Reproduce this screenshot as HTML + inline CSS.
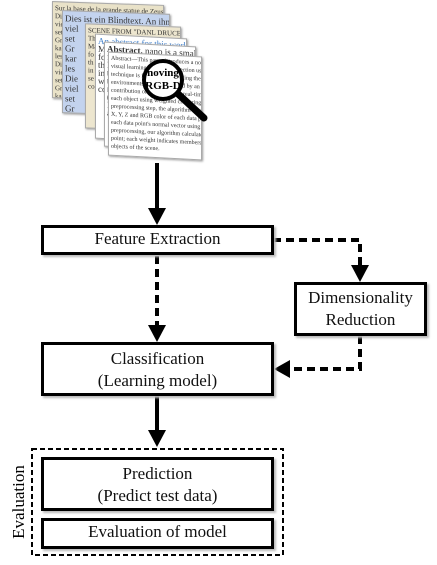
<!DOCTYPE html>
<html><head><style>
body{margin:0;width:437px;height:565px;background:#fff;position:relative;overflow:hidden;font-family:"Liberation Serif",serif;}
.b{position:absolute;border:3px solid #000;box-sizing:border-box;background:#fff;text-align:center;font-size:17px;line-height:22px;color:#111;box-shadow:2px 2px 2px #bbb;}
.pg{position:absolute;box-sizing:border-box;border:1px solid #aaa;overflow:hidden;font-size:7px;line-height:8px;color:#333;padding:2px;box-shadow:1px 1px 2px #999;white-space:nowrap;}
</style></head><body>
<div class="pg" style="left:52px;top:3px;width:112px;height:97px;background:#e9e2c8;transform:skewY(2deg)">Sur la base de la grande statue de Zeus, à Olympie...<br>Diese ist ein Blindtext.<br>viel<br>set<br>Gr<br>ka<br>les<br>Di<br>vie<br>set<br>Gr<br>ka</div>
<div class="pg" style="left:62px;top:12px;width:108px;height:103px;background:#c3d3ee;font-size:9px;line-height:10px;transform:skewY(2deg)">Dies ist ein Blindtext. An ihm lässt sich<br>viel<br>set<br>Gr<br>kar<br>les<br>Die<br>viel<br>set<br>Gr<br>kar<br>les</div>
<div class="pg" style="left:85px;top:25px;width:96px;height:105px;background:#ede6cf;transform:skewY(2deg)">SCENE FROM "DANL DRUCE"<br>Th<br>Ma<br>fo<br>th<br>in<br>se<br>co</div>
<div class="pg" style="left:95px;top:36px;width:92px;height:105px;background:#fff;transform:skewY(3deg);font-size:9px"><span style="color:#3a7bc8">An abstract for this workshop</span><br>Ma<br>for<br>thi<br>in<br>wi<br>co</div>
<div class="pg" style="left:104px;top:44px;width:92px;height:105px;background:#fff;transform:skewY(3deg);font-size:9px"><b>Abstract.</b> nano is a small, free and<br>fri<br>Pi<br>th<br>th<br>na<br>(o<br>Pi<br>ar</div>
<div class="pg" style="left:108px;top:54px;width:94px;height:104px;background:#fff;transform:skewY(3deg);font-size:6px;line-height:8px">Abstract—This paper introduces a novel weighted<br>visual learning for object detection using an<br>technique is feasible for detecting the moving<br>environments that are captured by an RGB-D<br>contribution of this paper is a real-time<br>each object using weighted clustering as a<br>preprocessing step, the algorithm calculates<br>X, Y, Z and RGB color of each data point<br>each data point's normal vector using the<br>preprocessing, our algorithm calculates k-<br>point; each weight indicates membership.<br>objects of the scene.</div>
<svg style="position:absolute;left:0;top:0" width="437" height="565">
<line x1="176" y1="92" x2="204" y2="118" stroke="#000" stroke-width="7" stroke-linecap="round"/>
<circle cx="163" cy="80" r="19" fill="#fff" stroke="#000" stroke-width="4"/>
<text x="163" y="76" font-family="Liberation Serif" font-weight="bold" font-size="11" text-anchor="middle">noving</text>
<text x="163" y="89" font-family="Liberation Serif" font-weight="bold" font-size="11" text-anchor="middle">RGB-D</text>
<line x1="157" y1="163" x2="157" y2="210" stroke="#000" stroke-width="4"/>
<polygon points="148,208 166,208 157,225" fill="#000"/>
<polyline points="273,240 360,240 360,266" fill="none" stroke="#000" stroke-width="4" stroke-dasharray="8,5"/>
<polygon points="351,265 369,265 360,282" fill="#000"/>
<line x1="157" y1="256" x2="157" y2="326" stroke="#000" stroke-width="4" stroke-dasharray="8,5"/>
<polygon points="148,325 166,325 157,342" fill="#000"/>
<polyline points="360,336 360,369 290,369" fill="none" stroke="#000" stroke-width="4" stroke-dasharray="8,5"/>
<polygon points="290,360 290,378 274,369" fill="#000"/>
<line x1="157" y1="396" x2="157" y2="432" stroke="#000" stroke-width="4"/>
<polygon points="148,430 166,430 157,447" fill="#000"/>
<rect x="32" y="449" width="251" height="106" fill="none" stroke="#000" stroke-width="2" stroke-dasharray="5,3"/>
<text transform="translate(24,502) rotate(-90)" font-family="Liberation Serif" font-size="17" text-anchor="middle">Evaluation</text>
</svg>
<div class="b" style="left:41px;top:225px;width:233px;height:30px">Feature Extraction</div>
<div class="b" style="left:294px;top:282px;width:133px;height:54px;padding-top:2px">Dimensionality<br>Reduction</div>
<div class="b" style="left:41px;top:342px;width:233px;height:54px;padding-top:3px">Classification<br>(Learning model)</div>
<div class="b" style="left:41px;top:457px;width:233px;height:54px;padding-top:3px">Prediction<br>(Predict test data)</div>
<div class="b" style="left:41px;top:518px;width:233px;height:31px">Evaluation of model</div>
</body></html>
